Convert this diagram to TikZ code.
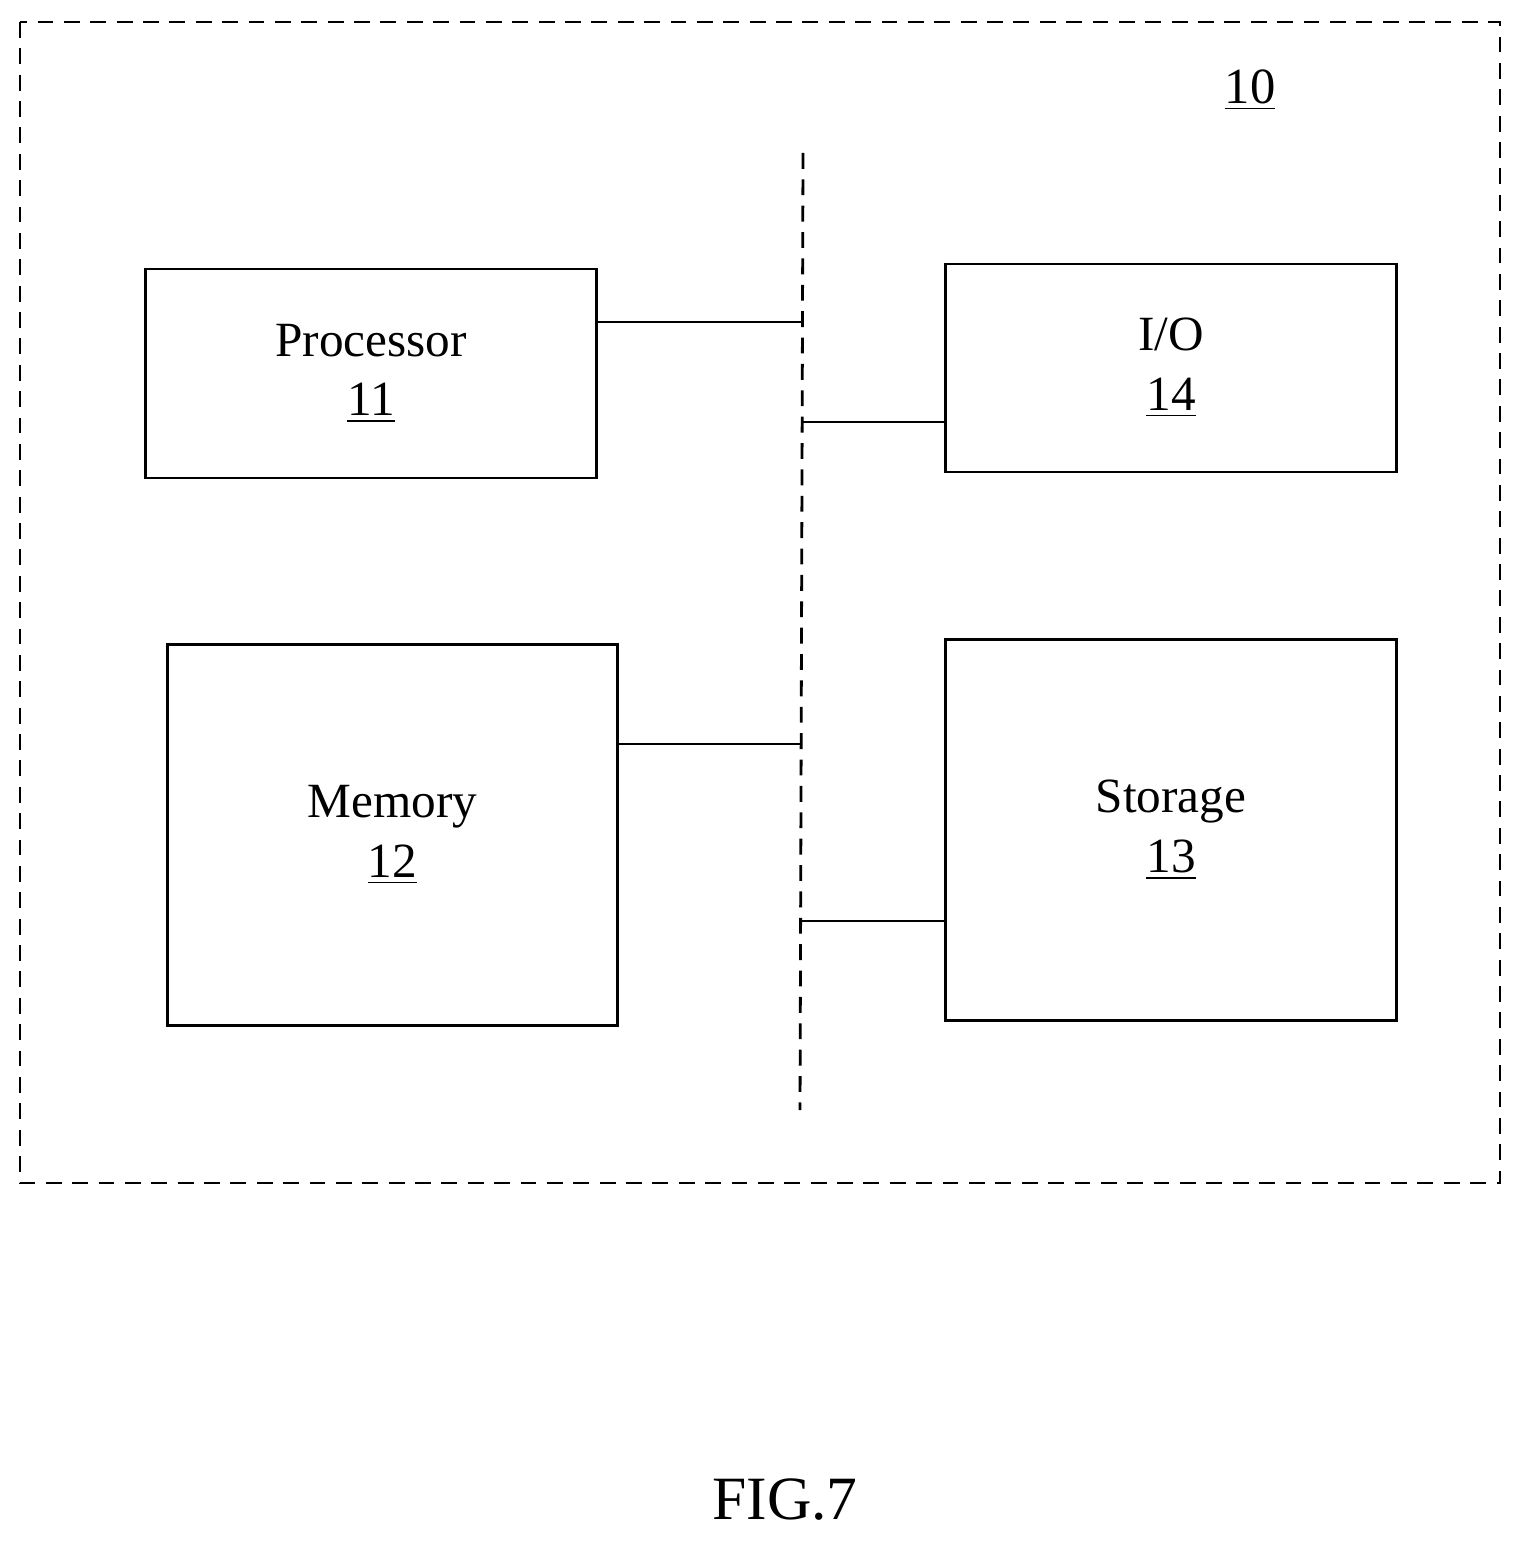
\documentclass[tikz,border=0pt]{standalone}
\usepackage{fontspec}
\setmainfont{Liberation Serif}
\usetikzlibrary{positioning}
\tikzset{block/.style={draw, line width=0.8pt, inner sep=0pt, align=center, font=\fontsize{14}{17}\selectfont}}
\tikzset{bus/.style={line width=0.8pt, dash pattern=on 4.5pt off 3pt}}
\begin{document}
\begin{tikzpicture}[x=0.01cm, y=-0.01cm, line cap=butt]
		\useasboundingbox (0,0) rectangle (1523,1543);
		
		% Frame
		\draw[bus] (20,22) rectangle (1500,1183);
		\node[font=\fontsize{14.4}{17}\selectfont] (ref) at (1250,90) {\underline{10}};
		
		% Blocks
		\node[block, minimum width=4.5cm, minimum height=2.09cm] (proc) at (371,373.5) {Processor\\\underline{11}};
		\node[block, minimum width=4.5cm, minimum height=2.08cm] (io) at (1171,368) {I/O\\\underline{14}};
		\node[block, minimum width=4.49cm, minimum height=3.8cm] (mem) at (392.5,835) {Memory\\\underline{12}};
		\node[block, minimum width=4.5cm, minimum height=3.8cm] (stor) at (1171,830) {Storage\\\underline{13}};
		
		% Bus
		\coordinate (top) at (803,153);
		\coordinate (bot) at (800,1110);
		\draw[bus] (top) -- (bot);
		
		% Connectors
		\draw[line width=0.8pt] (proc.east |- 0,322) -- (803,322);
		\draw[line width=0.8pt] (803,422) -- (io.west |- 0,422);
		\draw[line width=0.8pt] (mem.east |- 0,744) -- (801,744);
		\draw[line width=0.8pt] (801,921) -- (stor.west |- 0,921);
		
		% Caption
		\node[font=\fontsize{17.5}{20}\selectfont] (fig) at (785,1500) {FIG.7};
	\end{tikzpicture}
\end{document}
